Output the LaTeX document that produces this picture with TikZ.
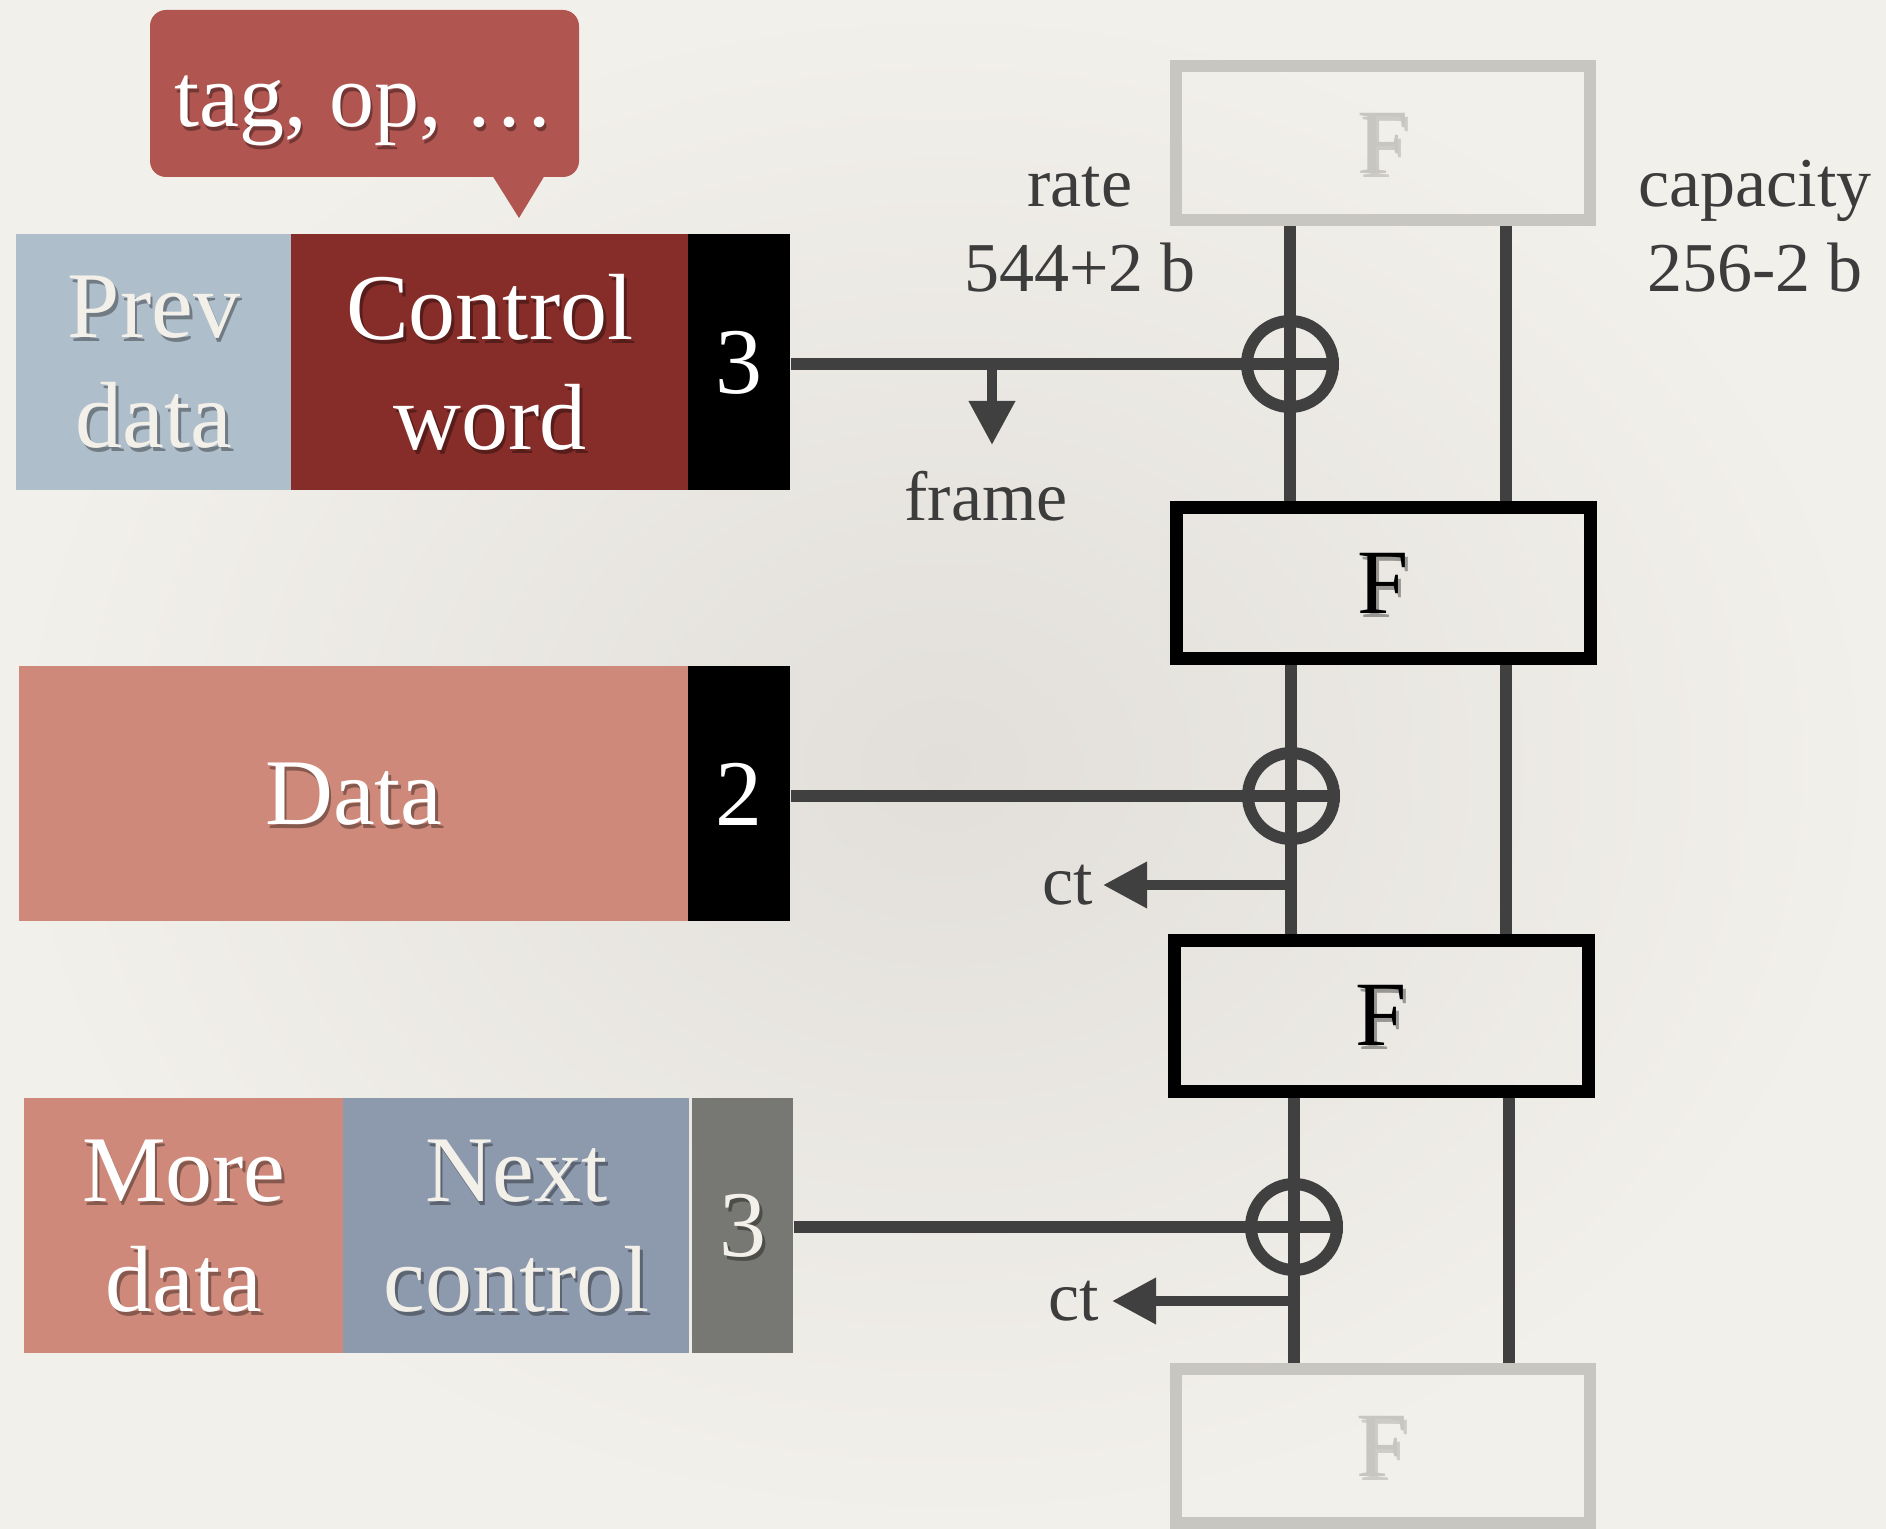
\documentclass[tikz,border=0pt]{standalone}
\usepackage{fontspec}
\setmainfont{Liberation Serif}
\usetikzlibrary{arrows.meta}
\definecolor{bgc}{HTML}{F2F0EB}
\definecolor{bgin}{HTML}{E2DFDA}
\definecolor{bubc}{HTML}{B05550}
\definecolor{ctrlc}{HTML}{872D29}
\definecolor{prevc}{HTML}{AFBECB}
\definecolor{datac}{HTML}{CF897A}
\definecolor{nextc}{HTML}{8D9AAD}
\definecolor{grayc}{HTML}{777773}
\definecolor{wirec}{HTML}{404040}
\definecolor{ghostc}{HTML}{C8C6C1}
\definecolor{creamc}{HTML}{F3F0EA}
\definecolor{lblc}{HTML}{3C3C3C}
\tikzset{
  cell/.style={fill=#1, draw=none, inner sep=0pt, anchor=north west},
  big/.style={font=\fontsize{47}{55}\selectfont, align=center, inner sep=0pt},
  wtxt/.style={big, text=white},
  shd/.style={text=black, text opacity=0.35, xshift=1.4pt, yshift=-2pt},
  lbl/.style={font=\fontsize{35}{40}\selectfont, text=lblc, inner sep=0pt},
  fbox/.style={draw=black, line width=6.5pt, minimum width=207pt, minimum height=75.5pt, inner sep=0pt},
  ghost/.style={fbox, draw=ghostc, line width=6pt, minimum height=77pt},
  ftxt/.style={font=\fontsize{46}{50}\selectfont, inner sep=0pt},
  wire/.style={draw=wirec, line width=6pt},
  xor/.style={circle, draw=wirec, line width=6pt, minimum size=43pt, inner sep=0pt},
  arr/.style={draw=wirec, line width=5pt, -{Triangle[length=22pt,width=22pt]}},
}
\newcommand\shtxt[4]{%
  \node[#3, shd] (#1s) at (#2) {#4};
  \node[#3] (#1) at (#2) {#4};}
\begin{document}
\begin{tikzpicture}[x=0.5pt,y=-0.5pt]
\useasboundingbox (0,0) rectangle (1886,1529);
\fill[bgc] (0,0) rectangle (1886,1529);
\shade[inner color=bgin, outer color=bgc] (0,0) rectangle (1886,1529);

% speech bubble
\fill[bubc, rounded corners=8pt] (150,10) rectangle (579,177);
\fill[bubc] (492,175) -- (519,218) -- (545,175) -- cycle;
\node[font=\fontsize{45}{50}\selectfont, inner sep=0pt, anchor=base, text=black, text opacity=0.35, xshift=1.4pt, yshift=-2pt] (tags) at (364,127) {tag, op, \ldots};
\node[font=\fontsize{45}{50}\selectfont, inner sep=0pt, anchor=base, text=white] (tag) at (364,127) {tag, op, \ldots};

% row 1
\node[cell=prevc, minimum width=137.5pt, minimum height=128pt] (prev) at (16,234) {};
\node[cell=ctrlc, minimum width=198.5pt, minimum height=128pt] (ctrl) at (291,234) {};
\node[cell=black, minimum width=51pt, minimum height=128pt] (n1) at (688,234) {};
\shtxt{prevt}{prev.center}{big, text=creamc}{Prev\\data}
\shtxt{ctrlt}{ctrl.center}{wtxt}{Control\\word}
\shtxt{n1t}{n1.center}{wtxt}{3}

% row 2
\node[cell=datac, minimum width=334.5pt, minimum height=127.5pt] (data) at (19,666) {};
\node[cell=black, minimum width=51pt, minimum height=127.5pt] (n2) at (688,666) {};
\shtxt{datat}{data.center}{wtxt}{Data}
\shtxt{n2t}{n2.center}{wtxt}{2}

% row 3
\node[cell=datac, minimum width=159.5pt, minimum height=127.5pt] (more) at (24,1098) {};
\node[cell=nextc, minimum width=173pt, minimum height=127.5pt] (next) at (343,1098) {};
\node[cell=grayc, minimum width=50.5pt, minimum height=127.5pt] (n3) at (692,1098) {};
\shtxt{moret}{more.center}{wtxt}{More\\data}
\shtxt{nextt}{next.center}{big, text=creamc}{Next\\control}
\shtxt{n3t}{n3.center}{big, text=creamc}{3}

% F boxes
\node[ghost] (Ftop) at (1383,143) {};
\node[fbox] (F1) at (1383,583.5) {};
\node[fbox] (F2) at (1381,1015.5) {};
\node[ghost] (Fbot) at (1382.5,1446) {};
\node[ftxt, text=black, text opacity=0.15, xshift=1.4pt, yshift=-2pt] (Ftops) at (Ftop.center) {F};
\node[ftxt, text=ghostc] (Ftopt) at (Ftop.center) {F};
\node[ftxt, text=black, text opacity=0.15, xshift=1.4pt, yshift=-2pt] (Fbots) at (Fbot.center) {F};
\node[ftxt, text=ghostc] (Fbott) at (Fbot.center) {F};
\shtxt{F1t}{F1.center}{ftxt, text=black}{F}
\shtxt{F2t}{F2.center}{ftxt, text=black}{F}

% xor nodes
\node[xor] (x1) at (1290,364) {};
\node[xor] (x2) at (1291,796) {};
\node[xor] (x3) at (1294,1227) {};
\coordinate (capx) at (1506,0);
\coordinate (capy) at (1509,0);

% vertical wires
\draw[wire] (Ftop.south -| x1) -- (F1.north -| x1);
\draw[wire] (Ftop.south -| capx) -- (F1.north -| capx);
\draw[wire] (F1.south -| x2) -- (F2.north -| x2);
\draw[wire] (F1.south -| capx) -- (F2.north -| capx);
\draw[wire] (F2.south -| x3) -- (Fbot.north -| x3);
\draw[wire] (F2.south -| capy) -- (Fbot.north -| capy);

% horizontal wires
\draw[wire] (n1.east |- x1) -- (x1.east);
\draw[wire] (n2.east |- x2) -- (x2.east);
\draw[wire] (n3.east |- x3) -- (x3.east);

% frame arrow
\coordinate (fs) at (992,362);
\coordinate (ftip) at (992,445);
\draw[arr] (fs) -- (ftip);
\node[lbl, anchor=base] (frame) at (986,521) {frame};

% ct arrows
\coordinate (c2s) at (1291,885);
\node[lbl, anchor=east] (ct2) at (1093,885) {ct};
\draw[arr, shorten >=5pt] (c2s) -- (ct2.east);
\coordinate (c3s) at (1294,1301);
\node[lbl, anchor=east] (ct3) at (1099,1301) {ct};
\draw[arr, shorten >=6.5pt] (c3s) -- (ct3.east);

% labels
\node[lbl, anchor=base] (rate) at (1080,207) {rate};
\node[lbl, anchor=base] (ratev) at (1080,292) {544+2 b};
\node[lbl, anchor=base] (cap) at (1755,207) {capacity};
\node[lbl, anchor=base] (capv) at (1755,292) {256-2 b};
\end{tikzpicture}
\end{document}
